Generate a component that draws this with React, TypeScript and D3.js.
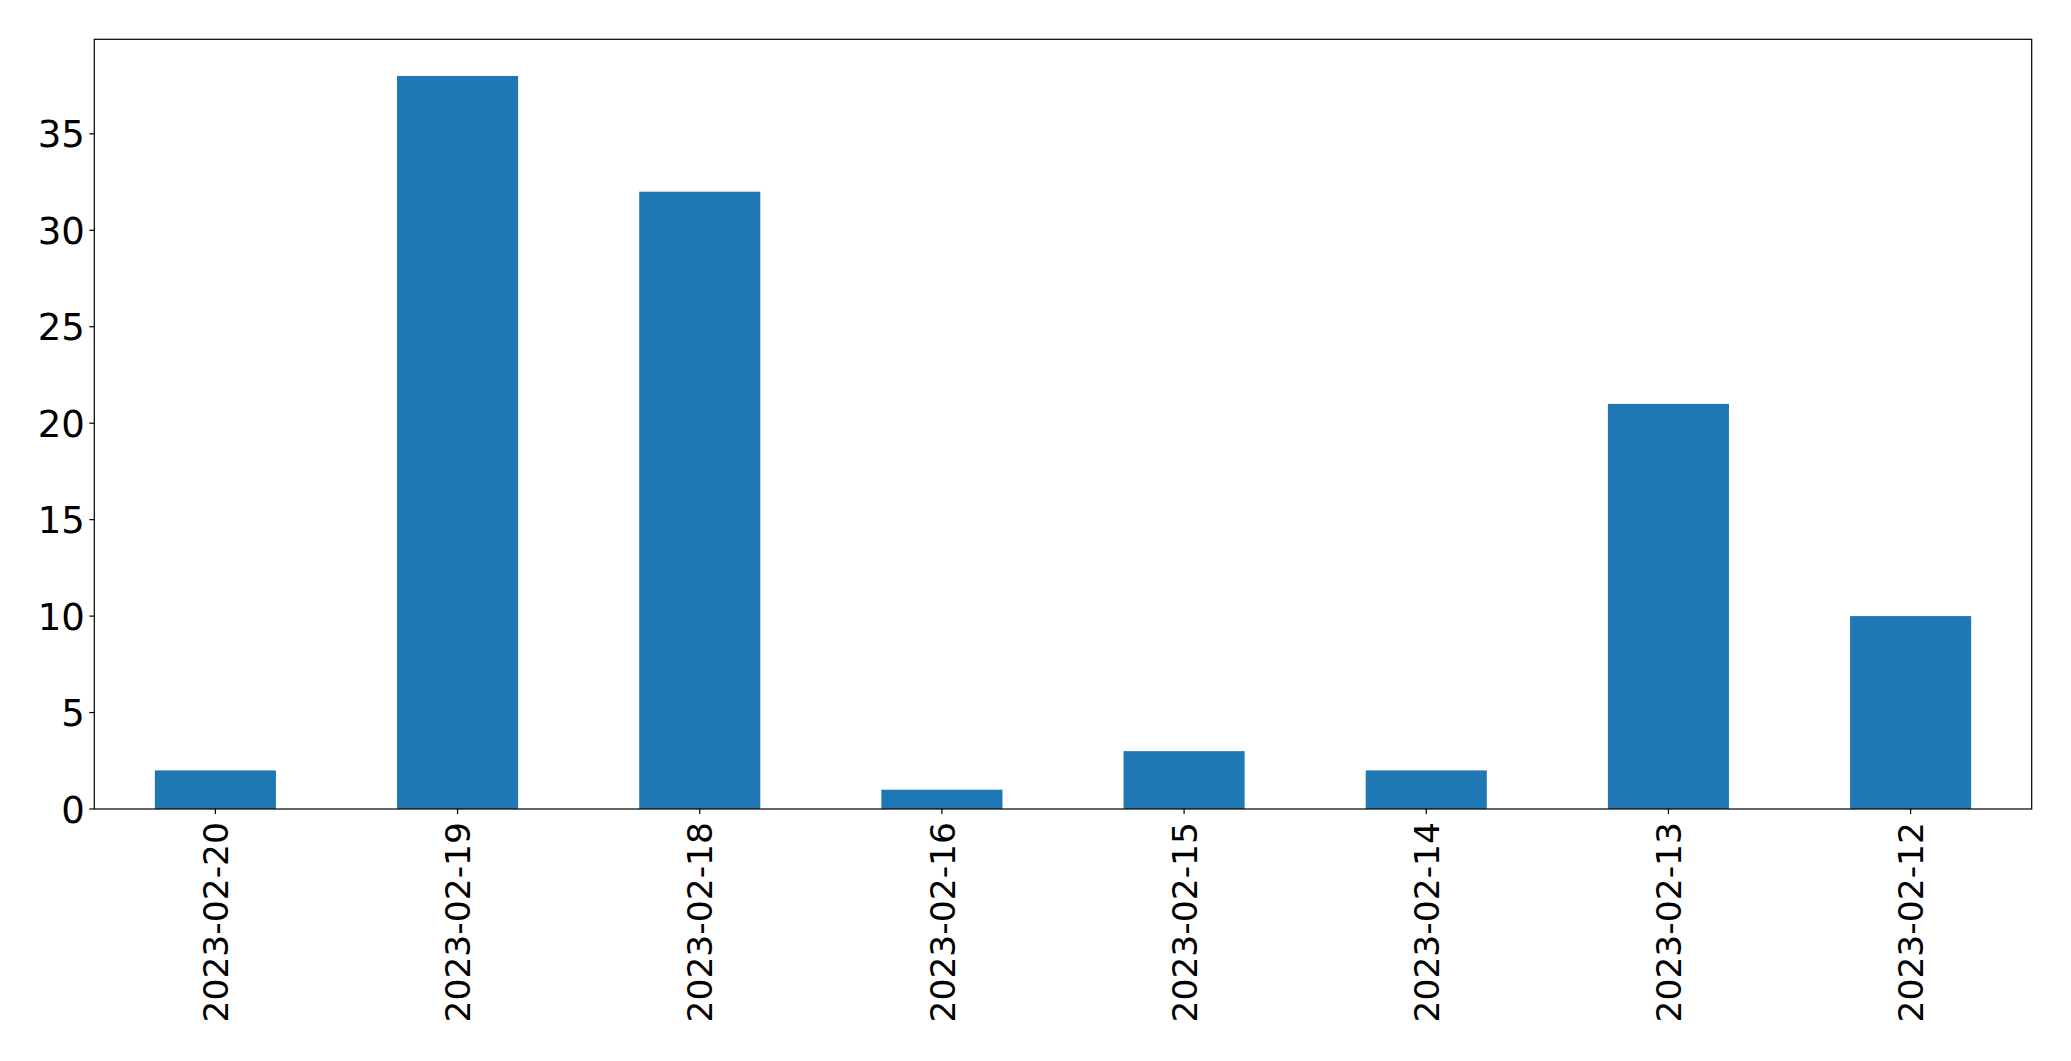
import React from "react";
import * as d3 from "d3";

const categories = ["2023-02-20", "2023-02-19", "2023-02-18", "2023-02-16", "2023-02-15", "2023-02-14", "2023-02-13", "2023-02-12"];
const values = [2, 38, 32, 1, 3, 2, 21, 10];
const yTicks = [0, 5, 10, 15, 20, 25, 30, 35];

const W = 2071;
const H = 1061;
const left = 94.3;
const right = 2031.7;
const top = 39.3;
const bottom = 809;
const YFONT = 37;
const XFONT = 34.5;

export default function App() {
  const x = d3.scaleLinear().domain([-0.5, categories.length - 0.5]).range([left, right]);
  const yMax = d3.max(values)! * 1.05;
  const y = d3.scaleLinear().domain([0, yMax]).range([bottom, top]);
  const barW = x(0.25) - x(-0.25);

  return (
    <svg width={W} height={H} style={{ position: "absolute", left: 0, top: 0, background: "#fff" }} fontFamily="DejaVu Sans">
      <rect x={0} y={0} width={W} height={H} fill="#fff" />
      {values.map((v, i) => (
        <rect key={i} x={x(i) - barW / 2} y={y(v)} width={barW} height={y(0) - y(v)} fill="#1f77b4" />
      ))}
      <rect x={left} y={top} width={right - left} height={bottom - top} fill="none" stroke="#000" strokeWidth={1.2} />
      {yTicks.map((t) => (
        <g key={t}>
          <line x1={left - 5} x2={left} y1={y(t)} y2={y(t)} stroke="#000" strokeWidth={1.2} />
          <text x={left - 9.5} y={y(t)} dy="0.365em" textAnchor="end" fontSize={YFONT} fill="#000">
            {t}
          </text>
        </g>
      ))}
      {categories.map((c, i) => (
        <g key={c}>
          <line x1={x(i)} x2={x(i)} y1={bottom} y2={bottom + 5} stroke="#000" strokeWidth={1.2} />
          <text
            transform={`translate(${x(i)},${bottom + 13}) rotate(-90)`}
            dy="0.365em"
            textAnchor="end"
            fontSize={XFONT}
            fill="#000"
          >
            {c}
          </text>
        </g>
      ))}
    </svg>
  );
}
